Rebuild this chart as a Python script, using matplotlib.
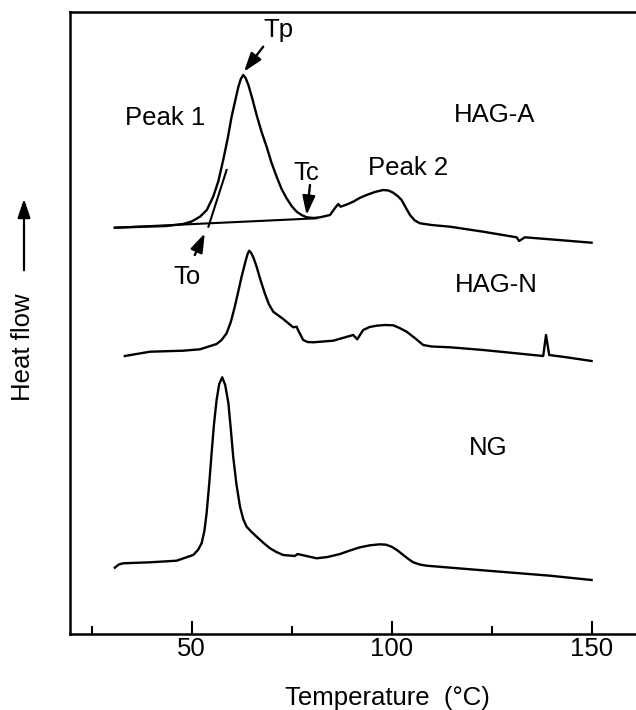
import numpy as np
import matplotlib
matplotlib.use('Agg')
import matplotlib.pyplot as plt
from matplotlib.ticker import FixedLocator

plt.rcParams['font.family'] = ['Liberation Sans', 'DejaVu Sans']

# DSC traces (temperature in C, heat flow in arbitrary units)
hag_a_t = [30.8, 43.7, 47.9, 50.0, 52.1, 53.8, 55.4, 56.7, 57.9, 59.0, 60.0, 61.0,
           61.7, 62.3, 62.9, 63.5, 64.2, 65.2, 66.25, 67.5, 68.75, 70.0, 71.25, 72.5,
           73.75, 75.0, 76.25, 77.5, 78.75, 80.5, 82.1, 84.6, 85.8, 86.65, 87.25,
           88.8, 90.4, 92.0, 93.75, 95.8, 97.9, 99.2, 100.4, 101.5, 102.5, 103.6,
           104.6, 105.8, 107.1, 110.0, 114.6, 122.9, 131.25, 131.9, 133.3, 139.6, 150.0]
hag_a_h = [406.3, 408, 410, 412.5, 417.3, 424, 437.3, 453, 474, 495, 517.3, 535,
           547.3, 555, 559, 556, 549, 535, 519, 502, 487.3, 471, 457.3, 445,
           435.7, 428, 422.3, 419, 416.7, 416, 416.7, 419, 425.7, 430, 427.3,
           429.5, 432.3, 436, 439, 442, 444, 443.5, 441.3, 438, 434, 426,
           419, 413.5, 410.7, 409, 407.3, 402.3, 396.7, 393, 396.7, 394.7, 391.3]

hag_n_t = [33.3, 39.6, 47.9, 52.1, 56.25, 57.5, 58.75, 59.8, 60.8, 61.7, 62.5, 63.5,
           64.0, 64.4, 64.9, 65.5, 66.25, 67.3, 68.3, 69.3, 70.4, 72.9, 75.4, 76.25,
           76.6, 77.9, 79.0, 80.4, 85.4, 90.4, 91.4, 92.9, 94.5, 96.25, 98.3, 100.4,
           102.0, 103.75, 105.8, 107.9, 110.0, 114.6, 122.9, 135.4, 137.9, 138.6,
           139.4, 143.75, 150.0]
hag_n_h = [278, 282.3, 283.3, 284.7, 290, 294, 300.7, 312, 327.3, 343, 357.3, 373,
           380, 383.3, 381, 376, 367.3, 353, 340.7, 330, 322.3, 315, 306.7, 307.3,
           304, 294, 292, 291.7, 293.3, 299, 294.7, 304, 307, 308.3, 309, 308.7,
           306, 302.3, 296, 289, 287.5, 286.7, 284, 279, 278, 299,
           279, 276.7, 273]

ng_t = [30.8, 31.8, 32.9, 39.6, 46.25, 50.4, 51.6, 52.5, 53.2, 53.75, 54.4, 55.0,
        55.6, 56.25, 56.9, 57.65, 58.4, 59.2, 59.8, 60.4, 61.2, 62.1, 62.9, 63.75,
        65.0, 66.25, 68.0, 69.6, 71.2, 72.9, 75.8, 76.5, 81.25, 84.0, 87.1, 89.6,
        92.1, 94.6, 97.1, 98.6, 100.0, 101.5, 102.9, 104.2, 105.4, 107.0, 108.75,
        118.75, 127.1, 139.6, 150.0]
ng_h = [66.3, 69.5, 70.7, 71.7, 73.3, 79, 84, 90.7, 103, 120.7, 150, 180.7,
        210, 234, 250, 256.7, 249, 230.7, 205, 177.3, 150, 127.3, 115, 107.3,
        102, 97.3, 91, 85.7, 82, 79, 78, 80, 75.7, 77, 80, 83.5,
        86.7, 88.7, 89.7, 89.3, 87.3, 83.5, 79, 75, 71.7, 69.5, 68.3,
        65, 62.3, 58.3, 54]

# construction lines on peak 1 of HAG-A
base_t = [30.8, 81.25]
base_h = [406.3, 415.7]
tang_t = [54.2, 58.75]
tang_h = [407.3, 464]

major_ticks = [50, 100, 150]
minor_ticks = [25, 75, 125]

fs = 18.5
fig = plt.figure(figsize=(6.36, 7.10), dpi=100)
ax = fig.add_axes([70/636, 76/710, 1 - 70/636, 622/710])

for t, h in [(hag_a_t, hag_a_h), (hag_n_t, hag_n_h), (ng_t, ng_h)]:
    ax.plot(t, h, color='black', lw=1.7, solid_joinstyle='round')
ax.plot(base_t, base_h, color='black', lw=1.5)
ax.plot(tang_t, tang_h, color='black', lw=1.5)

ax.set_xlim(19.6, 161.1)
ax.set_ylim(0, 622)
ax.xaxis.set_major_locator(FixedLocator(major_ticks))
ax.xaxis.set_minor_locator(FixedLocator(minor_ticks))
ax.tick_params(axis='x', which='major', direction='in', length=9.5, width=1.5,
               labelsize=fs, pad=2)
ax.tick_params(axis='x', which='minor', direction='in', length=5.5, width=1.5)
ax.set_yticks([])
for s in ['top', 'left', 'bottom']:
    ax.spines[s].set_linewidth(1.8)
ax.spines['right'].set_visible(False)

# labels on the traces
ax.text(43.3, 515.7, 'Peak 1', fontsize=fs, ha='center', va='center')
ax.text(104.15, 465.7, 'Peak 2', fontsize=fs, ha='center', va='center')
ax.text(125.8, 519, 'HAG-A', fontsize=fs, ha='center', va='center')
ax.text(126.25, 349, 'HAG-N', fontsize=fs, ha='center', va='center')
ax.text(124.15, 185.7, 'NG', fontsize=fs, ha='center', va='center')
ax.text(71.65, 604, 'Tp', fontsize=fs, ha='center', va='center')
ax.text(78.75, 460.7, 'Tc', fontsize=fs, ha='center', va='center')
ax.text(48.9, 357.3, 'To', fontsize=fs, ha='center', va='center')

arr = dict(arrowstyle='-|>,head_length=0.95,head_width=0.32', color='black', lw=1.7,
           shrinkA=0, shrinkB=0, mutation_scale=12)
ax.annotate('', xy=(63.1, 562.3), xytext=(67.9, 587.3), arrowprops=arr)
ax.annotate('', xy=(78.75, 419), xytext=(79.6, 449), arrowprops=arr)
ax.annotate('', xy=(53.3, 400.7), xytext=(50.8, 379), arrowprops=arr)

fig.text(387/636, 1 - 698/710, 'Temperature  (°C)', fontsize=fs, ha='center', va='center')
fig.text(23/636, 1 - 347/710, 'Heat flow', fontsize=fs, rotation=90, ha='center', va='center')
fig.add_artist(matplotlib.patches.FancyArrowPatch(
    (24/636, 1 - 273/710), (24/636, 1 - 196/710), transform=fig.transFigure,
    arrowstyle='-|>,head_length=0.95,head_width=0.32', mutation_scale=12,
    color='black', lw=1.6))

fig.savefig('out.png', dpi=100)
